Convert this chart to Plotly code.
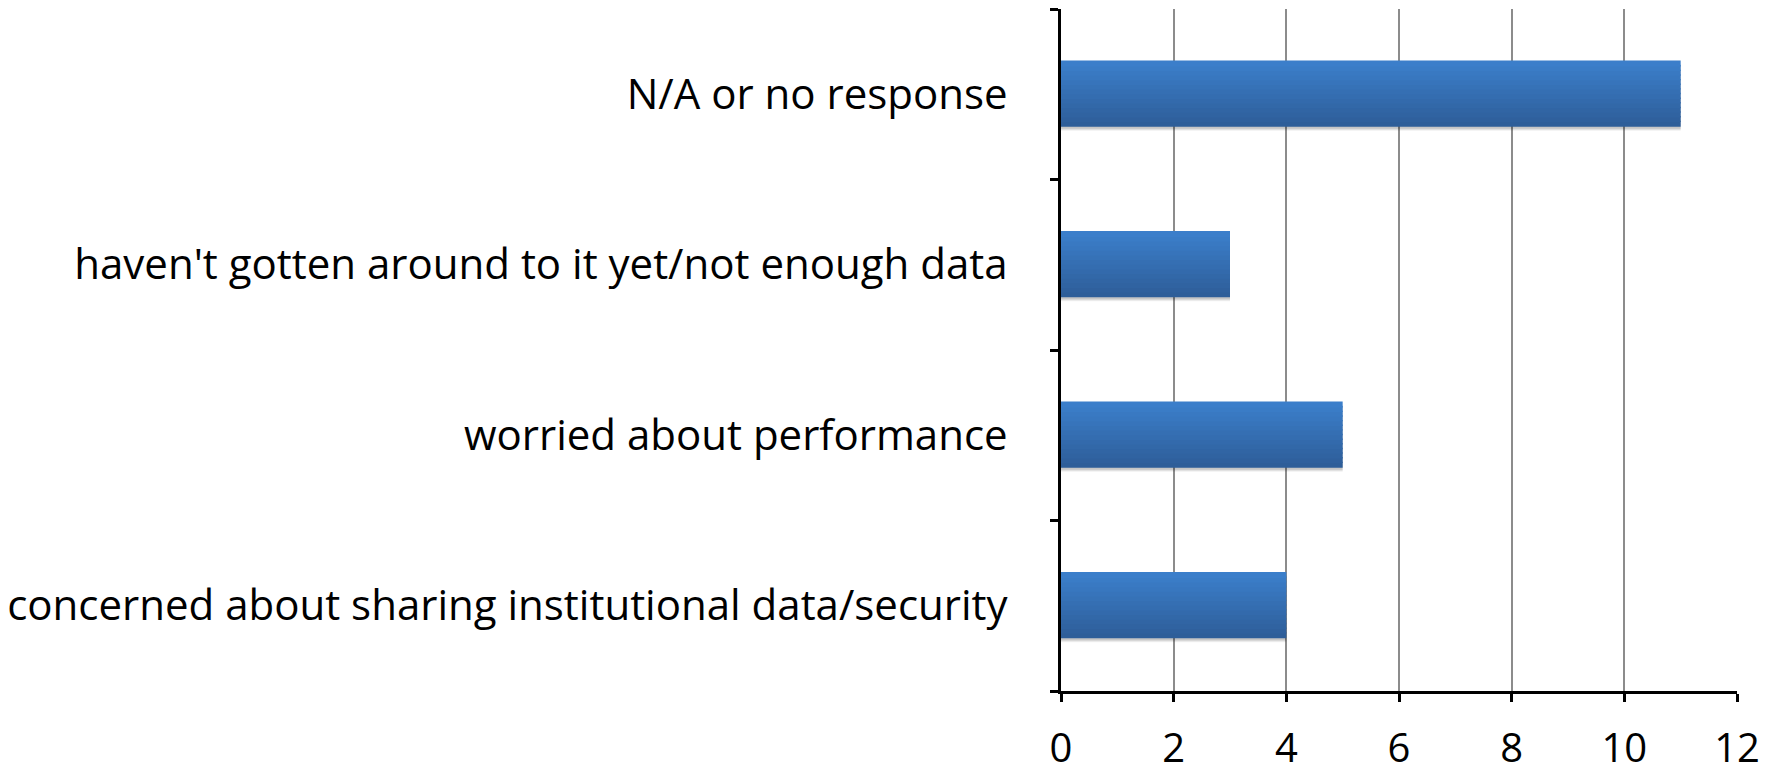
import plotly.graph_objects as go

# categories listed bottom -> top (plotly draws the first category at the bottom)
reasons = [
    "concerned about sharing institutional data/security",
    "worried about performance",
    "haven't gotten around to it yet/not enough data",
    "N/A or no response",
]
counts = [4, 5, 3, 11]
x_ticks = [0, 2, 4, 6, 8, 10, 12]

BAR_W = 0.38
N_SLICES = 14
TOP_RGB = (59, 126, 202)
BOT_RGB = (46, 94, 153)

fig = go.Figure()

# soft drop shadow under each bar
for k, a in enumerate([0.06, 0.08, 0.10]):
    fig.add_trace(go.Bar(
        y=reasons, x=counts, orientation="h",
        width=BAR_W, offset=-BAR_W / 2 - 0.012 - 0.006 * (2 - k),
        marker=dict(color=f"rgba(0,0,0,{a})", line=dict(width=0)),
        hoverinfo="skip", showlegend=False,
    ))

# vertical gradient built from thin slices of the same bars
h = BAR_W / N_SLICES
for i in range(N_SLICES):
    t = i / (N_SLICES - 1)  # 0 = bottom, 1 = top
    r, g, b = [round(BOT_RGB[j] + (TOP_RGB[j] - BOT_RGB[j]) * t) for j in range(3)]
    fig.add_trace(go.Bar(
        y=reasons, x=counts, orientation="h",
        width=h * 1.3, offset=-BAR_W / 2 + i * h,
        marker=dict(color=f"rgb({r},{g},{b})", line=dict(width=0)),
        hoverinfo="skip", showlegend=False,
    ))

# the page puts the figure 8px in from the top-left corner, margins allow for that
fig.update_layout(
    barmode="overlay",
    width=1777,
    height=773,
    paper_bgcolor="white",
    plot_bgcolor="white",
    margin=dict(l=1053, r=48, t=1, b=90),
    font=dict(family="Open Sans, Lato, sans-serif", color="black"),
    showlegend=False,
)

fig.update_xaxes(
    range=[0, 12],
    tickvals=x_ticks,
    ticktext=[str(v) for v in x_ticks],
    showgrid=True,
    gridcolor="#8c8c8c",
    gridwidth=2,
    zeroline=False,
    showline=True,
    linecolor="black",
    linewidth=3,
    ticks="outside",
    ticklen=8,
    tickwidth=3,
    tickcolor="black",
    tickfont=dict(size=40, family="Open Sans, sans-serif"),
    ticklabelstandoff=12,
    automargin=False,
)

fig.update_yaxes(
    type="category",
    categoryorder="array",
    categoryarray=reasons,
    tickson="boundaries",
    showgrid=False,
    zeroline=False,
    showline=True,
    linecolor="black",
    linewidth=3,
    ticks="outside",
    ticklen=8,
    tickwidth=3,
    tickcolor="black",
    tickfont=dict(size=42, family="Open Sans, sans-serif"),
    ticklabelstandoff=42,
    automargin=False,
)

fig.write_html("out.html")
